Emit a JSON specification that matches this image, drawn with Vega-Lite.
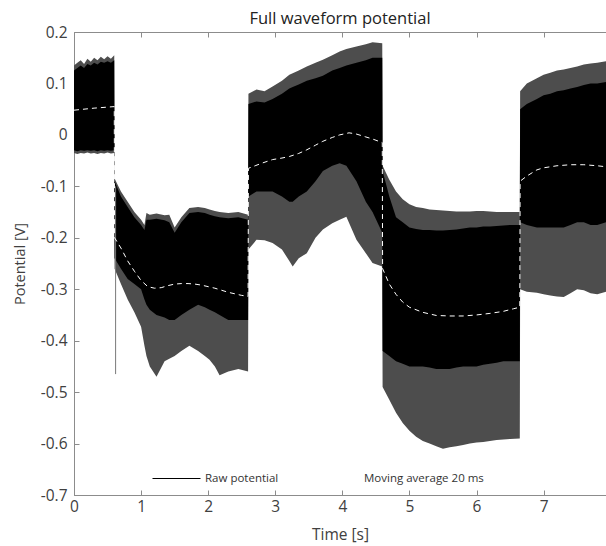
{
  "$schema": "https://vega.github.io/schema/vega-lite/v6.json",
  "width": 532,
  "height": 463,
  "autosize": {"type": "none"},
  "padding": {"left": 74, "top": 32, "right": 0, "bottom": 51},
  "background": "white",
  "title": {"text": "Full waveform potential", "font": "Open Sans", "fontSize": 16.5, "fontWeight": "normal", "color": "#222222", "offset": -2, "anchor": "middle"},
  "config": {
    "view": {"stroke": "#8c8c8c", "strokeWidth": 1},
    "axis": {"grid": false, "domainColor": "#8c8c8c", "tickColor": "#8c8c8c", "labelFont": "Open Sans", "titleFont": "Open Sans", "labelColor": "#404040", "titleColor": "#404040", "titleFontWeight": "normal"}
  },
  "datasets": {
    "env": [
      {"t": 0, "hi": 0.135, "lo": -0.035, "chi": 0.125, "clo": -0.03},
      {"t": 0.05, "hi": 0.14, "lo": -0.037, "chi": 0.13, "clo": -0.032},
      {"t": 0.1, "hi": 0.145, "lo": -0.035, "chi": 0.135, "clo": -0.03},
      {"t": 0.15, "hi": 0.138, "lo": -0.036, "chi": 0.13, "clo": -0.031},
      {"t": 0.2, "hi": 0.148, "lo": -0.034, "chi": 0.138, "clo": -0.03},
      {"t": 0.25, "hi": 0.142, "lo": -0.036, "chi": 0.135, "clo": -0.031},
      {"t": 0.3, "hi": 0.15, "lo": -0.035, "chi": 0.14, "clo": -0.03},
      {"t": 0.35, "hi": 0.145, "lo": -0.037, "chi": 0.137, "clo": -0.032},
      {"t": 0.4, "hi": 0.152, "lo": -0.035, "chi": 0.142, "clo": -0.03},
      {"t": 0.45, "hi": 0.147, "lo": -0.036, "chi": 0.14, "clo": -0.031},
      {"t": 0.5, "hi": 0.153, "lo": -0.034, "chi": 0.143, "clo": -0.03},
      {"t": 0.55, "hi": 0.148, "lo": -0.036, "chi": 0.14, "clo": -0.031},
      {"t": 0.6, "hi": 0.155, "lo": -0.035, "chi": 0.145, "clo": -0.03},
      {"t": 0.605, "hi": -0.085, "lo": -0.26, "chi": -0.09, "clo": -0.24},
      {"t": 0.7, "hi": -0.11, "lo": -0.29, "chi": -0.12, "clo": -0.26},
      {"t": 0.8, "hi": -0.13, "lo": -0.32, "chi": -0.14, "clo": -0.28},
      {"t": 0.9, "hi": -0.15, "lo": -0.345, "chi": -0.16, "clo": -0.29},
      {"t": 1.0, "hi": -0.165, "lo": -0.373, "chi": -0.175, "clo": -0.3},
      {"t": 1.05, "hi": -0.175, "lo": -0.41, "chi": -0.185, "clo": -0.32},
      {"t": 1.08, "hi": -0.152, "lo": -0.43, "chi": -0.165, "clo": -0.33},
      {"t": 1.13, "hi": -0.155, "lo": -0.45, "chi": -0.165, "clo": -0.34},
      {"t": 1.23, "hi": -0.153, "lo": -0.47, "chi": -0.163, "clo": -0.35},
      {"t": 1.35, "hi": -0.156, "lo": -0.44, "chi": -0.166, "clo": -0.355},
      {"t": 1.42, "hi": -0.155, "lo": -0.435, "chi": -0.17, "clo": -0.36},
      {"t": 1.5, "hi": -0.18, "lo": -0.43, "chi": -0.19, "clo": -0.36},
      {"t": 1.6, "hi": -0.16, "lo": -0.42, "chi": -0.17, "clo": -0.35},
      {"t": 1.72, "hi": -0.142, "lo": -0.41, "chi": -0.152, "clo": -0.34},
      {"t": 1.85, "hi": -0.14, "lo": -0.42, "chi": -0.15, "clo": -0.33},
      {"t": 1.95, "hi": -0.142, "lo": -0.43, "chi": -0.152, "clo": -0.335},
      {"t": 2.02, "hi": -0.145, "lo": -0.437, "chi": -0.155, "clo": -0.34},
      {"t": 2.1, "hi": -0.148, "lo": -0.45, "chi": -0.158, "clo": -0.345},
      {"t": 2.17, "hi": -0.15, "lo": -0.467, "chi": -0.16, "clo": -0.35},
      {"t": 2.3, "hi": -0.152, "lo": -0.46, "chi": -0.162, "clo": -0.36},
      {"t": 2.45, "hi": -0.15, "lo": -0.455, "chi": -0.16, "clo": -0.36},
      {"t": 2.595, "hi": -0.155, "lo": -0.46, "chi": -0.165, "clo": -0.36},
      {"t": 2.6, "hi": 0.08, "lo": -0.223, "chi": 0.06, "clo": -0.12},
      {"t": 2.72, "hi": 0.088, "lo": -0.204, "chi": 0.065, "clo": -0.11},
      {"t": 2.84, "hi": 0.085, "lo": -0.205, "chi": 0.063, "clo": -0.11},
      {"t": 2.96, "hi": 0.094, "lo": -0.21, "chi": 0.07, "clo": -0.11},
      {"t": 3.1, "hi": 0.105, "lo": -0.223, "chi": 0.08, "clo": -0.12},
      {"t": 3.21, "hi": 0.117, "lo": -0.245, "chi": 0.09, "clo": -0.13},
      {"t": 3.26, "hi": 0.12, "lo": -0.256, "chi": 0.093, "clo": -0.13},
      {"t": 3.35, "hi": 0.125, "lo": -0.24, "chi": 0.098, "clo": -0.12},
      {"t": 3.47, "hi": 0.133, "lo": -0.23, "chi": 0.105, "clo": -0.11},
      {"t": 3.6, "hi": 0.14, "lo": -0.2, "chi": 0.11, "clo": -0.09},
      {"t": 3.71, "hi": 0.146, "lo": -0.184, "chi": 0.115, "clo": -0.07},
      {"t": 3.85, "hi": 0.155, "lo": -0.172, "chi": 0.125, "clo": -0.06},
      {"t": 3.96, "hi": 0.162, "lo": -0.165, "chi": 0.13, "clo": -0.055},
      {"t": 4.06, "hi": 0.167, "lo": -0.159, "chi": 0.135, "clo": -0.06},
      {"t": 4.21, "hi": 0.172, "lo": -0.204, "chi": 0.14, "clo": -0.09},
      {"t": 4.35, "hi": 0.176, "lo": -0.23, "chi": 0.145, "clo": -0.13},
      {"t": 4.45, "hi": 0.18, "lo": -0.249, "chi": 0.15, "clo": -0.15},
      {"t": 4.595, "hi": 0.178, "lo": -0.256, "chi": 0.15, "clo": -0.19},
      {"t": 4.6, "hi": -0.06, "lo": -0.49, "chi": -0.07, "clo": -0.42},
      {"t": 4.7, "hi": -0.087, "lo": -0.515, "chi": -0.12, "clo": -0.43},
      {"t": 4.8, "hi": -0.11, "lo": -0.54, "chi": -0.16, "clo": -0.44},
      {"t": 4.9, "hi": -0.125, "lo": -0.56, "chi": -0.17, "clo": -0.445},
      {"t": 5.0, "hi": -0.135, "lo": -0.575, "chi": -0.18, "clo": -0.45},
      {"t": 5.1, "hi": -0.14, "lo": -0.587, "chi": -0.183, "clo": -0.45},
      {"t": 5.2, "hi": -0.142, "lo": -0.595, "chi": -0.185, "clo": -0.45},
      {"t": 5.3, "hi": -0.145, "lo": -0.6, "chi": -0.185, "clo": -0.452},
      {"t": 5.4, "hi": -0.146, "lo": -0.605, "chi": -0.186, "clo": -0.455},
      {"t": 5.5, "hi": -0.147, "lo": -0.61, "chi": -0.186, "clo": -0.455},
      {"t": 5.6, "hi": -0.148, "lo": -0.607, "chi": -0.185, "clo": -0.455},
      {"t": 5.7, "hi": -0.149, "lo": -0.605, "chi": -0.184, "clo": -0.452},
      {"t": 5.8, "hi": -0.149, "lo": -0.603, "chi": -0.182, "clo": -0.45},
      {"t": 5.9, "hi": -0.149, "lo": -0.6, "chi": -0.18, "clo": -0.45},
      {"t": 6.0, "hi": -0.148, "lo": -0.598, "chi": -0.18, "clo": -0.45},
      {"t": 6.1, "hi": -0.148, "lo": -0.597, "chi": -0.178, "clo": -0.447},
      {"t": 6.2, "hi": -0.149, "lo": -0.595, "chi": -0.178, "clo": -0.445},
      {"t": 6.3, "hi": -0.15, "lo": -0.593, "chi": -0.177, "clo": -0.443},
      {"t": 6.4, "hi": -0.15, "lo": -0.592, "chi": -0.176, "clo": -0.44},
      {"t": 6.5, "hi": -0.15, "lo": -0.591, "chi": -0.175, "clo": -0.44},
      {"t": 6.645, "hi": -0.15, "lo": -0.59, "chi": -0.175, "clo": -0.44},
      {"t": 6.65, "hi": 0.085, "lo": -0.3, "chi": 0.05, "clo": -0.17},
      {"t": 6.75, "hi": 0.1, "lo": -0.305, "chi": 0.06, "clo": -0.175},
      {"t": 6.9, "hi": 0.11, "lo": -0.307, "chi": 0.07, "clo": -0.18},
      {"t": 7.0, "hi": 0.117, "lo": -0.31, "chi": 0.077, "clo": -0.18},
      {"t": 7.1, "hi": 0.121, "lo": -0.312, "chi": 0.08, "clo": -0.18},
      {"t": 7.2, "hi": 0.125, "lo": -0.314, "chi": 0.085, "clo": -0.18},
      {"t": 7.3, "hi": 0.127, "lo": -0.315, "chi": 0.087, "clo": -0.18},
      {"t": 7.4, "hi": 0.13, "lo": -0.308, "chi": 0.09, "clo": -0.175},
      {"t": 7.5, "hi": 0.133, "lo": -0.3, "chi": 0.093, "clo": -0.17},
      {"t": 7.6, "hi": 0.137, "lo": -0.302, "chi": 0.097, "clo": -0.17},
      {"t": 7.7, "hi": 0.139, "lo": -0.308, "chi": 0.1, "clo": -0.175},
      {"t": 7.8, "hi": 0.14, "lo": -0.31, "chi": 0.1, "clo": -0.175},
      {"t": 7.93, "hi": 0.143, "lo": -0.305, "chi": 0.103, "clo": -0.17}
    ],
    "ma": [
      {"t": 0, "ma": 0.048}, {"t": 0.3, "ma": 0.052}, {"t": 0.6, "ma": 0.055},
      {"t": 0.605, "ma": -0.2}, {"t": 0.7, "ma": -0.22}, {"t": 0.8, "ma": -0.245}, {"t": 0.9, "ma": -0.265},
      {"t": 1.0, "ma": -0.283}, {"t": 1.1, "ma": -0.295}, {"t": 1.2, "ma": -0.298}, {"t": 1.3, "ma": -0.297},
      {"t": 1.4, "ma": -0.293}, {"t": 1.5, "ma": -0.29}, {"t": 1.6, "ma": -0.289}, {"t": 1.7, "ma": -0.289},
      {"t": 1.8, "ma": -0.29}, {"t": 1.9, "ma": -0.292}, {"t": 2.0, "ma": -0.295}, {"t": 2.1, "ma": -0.298},
      {"t": 2.2, "ma": -0.302}, {"t": 2.3, "ma": -0.306}, {"t": 2.4, "ma": -0.309}, {"t": 2.5, "ma": -0.312},
      {"t": 2.595, "ma": -0.314},
      {"t": 2.6, "ma": -0.065}, {"t": 2.7, "ma": -0.06}, {"t": 2.8, "ma": -0.055}, {"t": 2.96, "ma": -0.048},
      {"t": 3.1, "ma": -0.045}, {"t": 3.21, "ma": -0.042}, {"t": 3.35, "ma": -0.036}, {"t": 3.47, "ma": -0.029},
      {"t": 3.6, "ma": -0.02}, {"t": 3.7, "ma": -0.013}, {"t": 3.85, "ma": -0.005}, {"t": 3.96, "ma": 0.0},
      {"t": 4.1, "ma": 0.004}, {"t": 4.2, "ma": 0.002}, {"t": 4.35, "ma": -0.004}, {"t": 4.45, "ma": -0.008},
      {"t": 4.595, "ma": -0.015},
      {"t": 4.6, "ma": -0.26}, {"t": 4.7, "ma": -0.29}, {"t": 4.8, "ma": -0.31}, {"t": 4.9, "ma": -0.325},
      {"t": 5.0, "ma": -0.335}, {"t": 5.2, "ma": -0.345}, {"t": 5.4, "ma": -0.351}, {"t": 5.6, "ma": -0.352},
      {"t": 5.8, "ma": -0.352}, {"t": 6.0, "ma": -0.35}, {"t": 6.2, "ma": -0.347}, {"t": 6.4, "ma": -0.343},
      {"t": 6.55, "ma": -0.338}, {"t": 6.645, "ma": -0.335},
      {"t": 6.65, "ma": -0.09}, {"t": 6.75, "ma": -0.08}, {"t": 6.9, "ma": -0.068}, {"t": 7.0, "ma": -0.064},
      {"t": 7.2, "ma": -0.06}, {"t": 7.4, "ma": -0.058}, {"t": 7.6, "ma": -0.058}, {"t": 7.8, "ma": -0.06},
      {"t": 7.93, "ma": -0.062}
    ],
    "spike": [
      {"t": 0.62, "top": -0.1, "bottom": -0.465}
    ]
  },
  "resolve": {"axis": {"x": "independent"}},
  "layer": [
    {
      "data": {"name": "env"},
      "mark": {"type": "area", "color": "#4d4d4d", "clip": true},
      "encoding": {
        "x": {"field": "t", "type": "quantitative", "scale": {"domain": [0, 7.93], "nice": false, "zero": false},
          "axis": {"orient": "bottom", "title": "Time [s]", "values": [0, 1, 2, 3, 4, 5, 6, 7], "tickSize": -5, "labelPadding": 9, "labelFontSize": 15.5, "titleFontSize": 15.5, "titlePadding": 13, "labelFlush": false}},
        "y": {"field": "hi", "type": "quantitative", "title": "Potential [V]", "scale": {"domain": [-0.7, 0.2], "nice": false, "zero": false},
          "axis": {"orient": "left", "values": [-0.7, -0.6, -0.5, -0.4, -0.3, -0.2, -0.1, 0, 0.1, 0.2], "tickSize": -5, "labelPadding": 12, "labelFontSize": 15.5, "titleFontSize": 14.5, "titlePadding": 13, "labelFlush": false,
            "labelExpr": "datum.value == 0 ? '0' : toString(round(datum.value * 10) / 10)"}},
        "y2": {"field": "lo"}
      }
    },
    {
      "data": {"name": "env"},
      "mark": {"type": "area", "clip": true},
      "encoding": {
        "x": {"field": "t", "type": "quantitative", "axis": null},
        "y": {"field": "chi", "type": "quantitative", "title": "Potential [V]"},
        "y2": {"field": "clo"},
        "color": {"datum": "Raw potential", "type": "nominal",
          "scale": {"domain": ["Raw potential", "Moving average 20 ms"], "range": ["#000000", "#ffffff"]},
          "legend": {"title": null, "orient": "none", "legendX": 78, "legendY": 422, "direction": "horizontal",
            "symbolType": "stroke", "symbolSize": 2304, "symbolStrokeWidth": 1, "labelFont": "Open Sans", "labelFontSize": 11.5, "labelColor": "#333333", "columnPadding": 30, "labelOffset": 4,
            "encode": {"symbols": {"update": {"stroke": {"scale": "color", "field": "value"}, "fill": {"value": "transparent"}, "strokeWidth": {"value": 1}}}}}}
      }
    },
    {
      "data": {"name": "spike"},
      "mark": {"type": "rule", "color": "#7a7a7a", "strokeWidth": 1},
      "encoding": {
        "x": {"field": "t", "type": "quantitative", "axis": {"orient": "top", "labels": false, "domain": false, "title": null, "values": [0, 1, 2, 3, 4, 5, 6, 7], "tickSize": -5}},
        "y": {"field": "top", "type": "quantitative", "title": "Potential [V]"},
        "y2": {"field": "bottom"}
      }
    },
    {
      "data": {"name": "ma"},
      "mark": {"type": "line", "strokeWidth": 1, "strokeDash": [5, 4], "clip": true},
      "encoding": {
        "x": {"field": "t", "type": "quantitative", "axis": null},
        "y": {"field": "ma", "type": "quantitative", "title": "Potential [V]"},
        "color": {"datum": "Moving average 20 ms", "type": "nominal"}
      }
    }
  ]
}
